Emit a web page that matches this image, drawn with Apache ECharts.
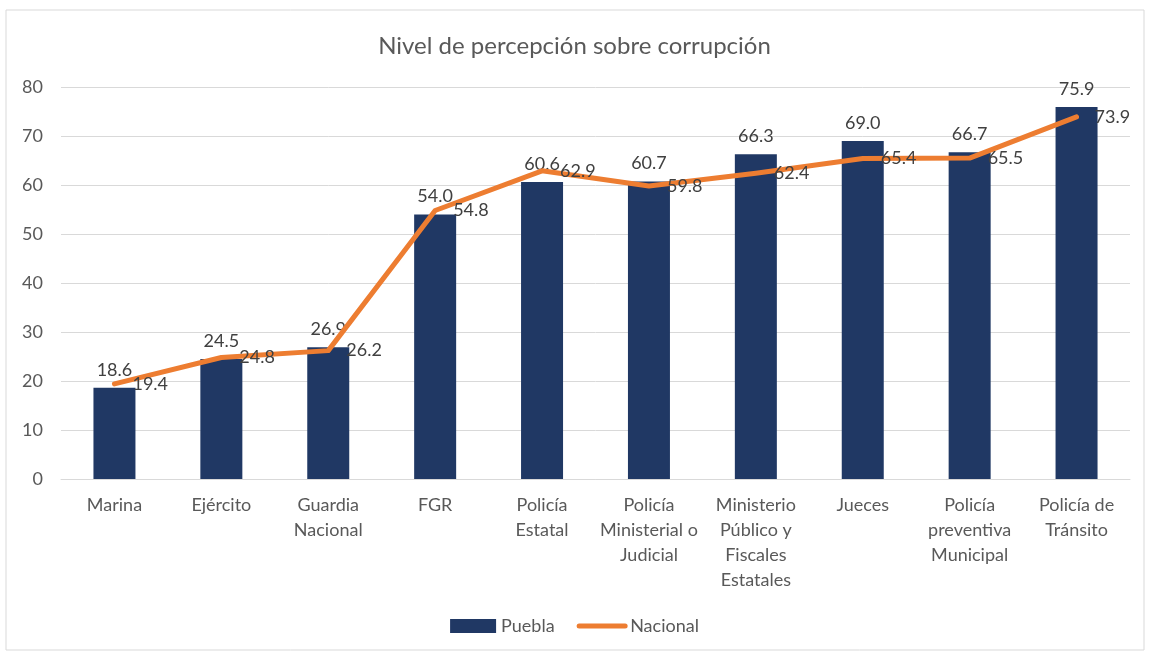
<!DOCTYPE html>
<html>
<head>
<meta charset="utf-8">
<script src="https://cdn.jsdelivr.net/npm/echarts@6/dist/echarts.min.js"></script>
<style>
  html, body { margin: 0; padding: 0; background: #fff; }
  #chart { width: 1149px; height: 652px; }
</style>
</head>
<body>
<div id="chart"></div>
<script>
"use strict";
const categories = ['Marina', 'Ejército', 'Guardia\nNacional', 'FGR', 'Policía\nEstatal',
  'Policía\nMinisterial o\nJudicial', 'Ministerio\nPúblico y\nFiscales\nEstatales', 'Jueces',
  'Policía\npreventiva\nMunicipal', 'Policía de\nTránsito'];
const puebla = [18.6, 24.5, 26.9, 54.0, 60.6, 60.7, 66.3, 69.0, 66.7, 75.9];
const nacional = [19.4, 24.8, 26.2, 54.8, 62.9, 59.8, 62.4, 65.4, 65.5, 73.9];

const textColor = '#595959';
const fontFam = 'Lato, "Open Sans", sans-serif';

const chart = echarts.init(document.getElementById('chart'), null, { renderer: 'canvas' });
const option = {
  animation: false,
  textStyle: { fontFamily: fontFam },
  graphic: [{
    type: 'rect',
    shape: { x: 6, y: 10, width: 1138, height: 640 },
    style: { fill: 'none', stroke: '#d9d9d9', lineWidth: 1 },
    silent: true
  }],
  title: {
    text: 'Nivel de percepción sobre corrupción',
    left: 'center',
    top: 29,
    textStyle: { color: textColor, fontSize: 24, fontWeight: 'normal', fontFamily: fontFam }
  },
  legend: {
    bottom: 12,
    left: 'center',
    itemGap: 22,
    itemWidth: 46,
    itemHeight: 14,
    textStyle: { color: textColor, fontSize: 18, fontFamily: fontFam },
    data: [
      { name: 'Puebla', icon: 'rect' },
      {
        name: 'Nacional',
        itemStyle: { color: 'rgba(0,0,0,0)', borderWidth: 0 },
        lineStyle: { width: 5, color: '#ED7D31', cap: 'round' }
      }
    ]
  },
  grid: { left: 61, right: 19, top: 87, bottom: 173, containLabel: false },
  xAxis: {
    type: 'category',
    data: categories,
    axisTick: { show: false },
    axisLine: { lineStyle: { color: '#d9d9d9', width: 1 } },
    axisLabel: {
      color: textColor, fontSize: 18, lineHeight: 25, margin: 14,
      interval: 0, fontFamily: fontFam
    }
  },
  yAxis: {
    type: 'value',
    min: 0, max: 80, interval: 10,
    axisLine: { show: false },
    axisTick: { show: false },
    splitLine: { lineStyle: { color: '#d9d9d9', width: 1 } },
    axisLabel: { color: textColor, fontSize: 18, margin: 18, fontFamily: fontFam }
  },
  series: [
    {
      name: 'Puebla',
      type: 'bar',
      data: puebla,
      barWidth: 42,
      itemStyle: { color: '#203864' },
      label: {
        show: true, position: 'top', distance: 9,
        color: '#404040', fontSize: 18, fontFamily: fontFam,
        formatter: p => p.value.toFixed(1)
      }
    },
    {
      name: 'Nacional',
      type: 'line',
      data: nacional,
      symbol: 'circle',
      symbolSize: 0,
      showSymbol: true,
      lineStyle: { color: '#ED7D31', width: 5, cap: 'round', join: 'round' },
      itemStyle: { color: '#ED7D31' },
      label: {
        show: true, position: 'right', distance: 18,
        color: '#404040', fontSize: 18, fontFamily: fontFam,
        formatter: p => p.value.toFixed(1)
      },
      labelLayout: { hideOverlap: false },
      z: 3
    }
  ]
};
chart.setOption(option);
</script>
</body>
</html>
